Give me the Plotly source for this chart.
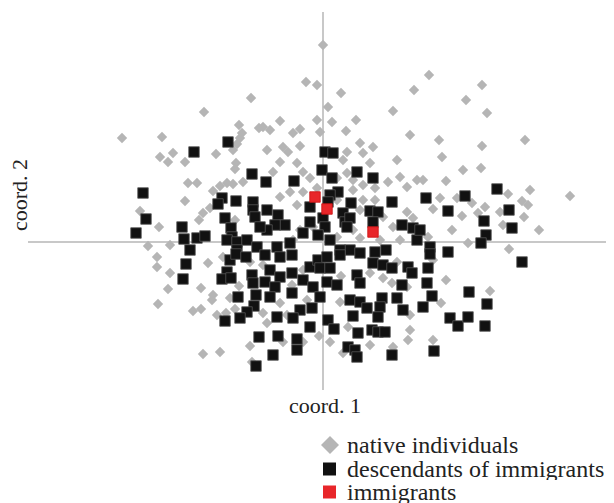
import plotly.graph_objects as go

# coordinates (arbitrary units, origin at axis crossing)
native_c1 = [-72,-119,-84,-81,-64,-201,-161,0,-17,-6,18,5,70,91,-43,-6,9,33,23,-60,-53,-30,-23,87,
             106,159,143,164,
             -163,-150,-155,-138,-107,-83,-86,-90,-87,-88,-135,-126,-138,-183,-164,-120,-124,-110,-103,-96,-90,-80,-113,-88,-175,-153,
             -3,-56,-40,-35,-23,37,50,24,20,40,47,74,-43,-26,-20,-13,24,14,30,40,52,65,77,94,84,-50,-33,-43,-20,-26,-6,14,30,40,52,37,60,70,84,90,30,37,14,-10,-23,-30,57,77,
             116,159,202,119,140,158,100,123,117,110,134,149,139,162,155,177,185,180,199,207,205,201,247,216,129,105,145,186,
             -166,-166,-153,-115,-155,-165,-122,-110,-111,-130,-122,-106,-97,-93,-84,-88,-120,-103,-73,-71,-100,-73,
             -60,-20,18,47,60,69,84,74,-31,-16,-43,-60,-56,-36,17,25,-4,7,-20,47,20,70,87,85,-40,87,
             123,167,118,110,110]
native_c2 = [144,130,117,109,114,104,105,197,160,157,149,135,131,152,121,122,120,122,111,115,112,109,113,107,
             167,157,142,129,
             85,89,80,80,88,104,98,92,79,73,59,59,41,31,15,29,22,51,56,59,58,60,34,22,-4,-3,
             110,92,95,90,96,99,95,90,82,89,79,82,80,79,70,64,69,64,62,57,54,60,65,62,55,70,50,45,50,37,54,42,52,42,42,32,25,15,30,24,12,4,5,15,12,2,2,2,
             102,96,102,85,72,74,62,61,44,33,44,39,26,35,29,30,48,17,41,52,37,25,46,12,12,5,-1,-7,
             -15,-25,-31,-21,-47,-62,-46,-53,-58,-69,-67,-73,-71,-56,-44,-67,-112,-110,-104,-120,-15,-20,
             -23,-28,-34,-31,-36,-41,-45,-20,-43,-58,-61,-71,-81,-73,-60,-85,-94,-100,-100,-103,-111,-105,-88,-98,-100,-73,
             -38,-49,-61,-98,-18]

desc_c1 = [-95,-129,-71,-180,-177,-187,-141,-139,-126,-118,-101,-105,-87,-98,-92,-91,-96,-86,-76,-133,-86,-70,-70,-68,-66,
           2,10,-1,9,34,50,-57,-29,15,7,5,28,69,-13,47,55,20,22,27,24,0,2,-13,50,79,90,94,-56,-45,-38,-48,-56,-20,-5,7,-33,-46,-63,52,63,27,17,
           103,142,174,125,186,161,189,163,158,107,125,97,
           -137,-140,-96,-101,-92,-93,-87,-77,-71,-70,-85,-67,-69,-76,-83,-98,-64,-67,
           -58,-43,-31,-53,-43,-31,-58,-48,-20,-10,-13,-5,4,-3,7,17,37,50,60,69,85,89,34,37,4,14,-31,-53,-3,27,37,44,59,57,74,79,80,-23,-11,-46,-30,5,30,55,-13,11,35,49,55,62,-45,-26,-26,25,32,34,69,-50,
           107,105,104,109,100,146,164,199,127,135,145,162,111]
desc_c2 = [100,90,68,49,23,9,15,3,4,6,44,38,41,24,14,5,2,0,2,-8,-8,40,32,25,-5,
           90,89,72,64,70,64,60,61,50,47,40,39,40,35,31,30,29,20,24,15,24,15,20,20,17,14,2,32,27,17,17,12,9,7,2,-1,-5,15,-10,-8,-8,-8,
           44,46,53,31,32,21,14,7,-1,-5,-10,12,
           -22,-37,-30,-37,-36,-18,-12,-15,-33,-41,-55,-53,-64,-70,-76,-79,-95,-124,
           -13,-15,-13,-28,-35,-31,-40,-45,-38,-45,-25,-18,-15,-26,-26,-13,-11,-21,-23,-26,-25,-31,-33,-41,-40,-43,-51,-55,-55,-58,-60,-66,-56,-65,-56,-43,-68,-68,-66,-75,-76,-78,-74,-75,-85,-87,-91,-88,-90,-90,-94,-97,-108,-105,-108,-115,-113,-113,
           -12,-26,-41,-54,-65,-50,-62,-20,-76,-84,-75,-84,-109]

immig_c1 = [-8, 4, 50]
immig_c2 = [45, 33, 10]

legend_labels = ["native individuals", "descendants of immigrants", "immigrants"]
axis_labels = ["coord. 1", "coord. 2"]

GRAY = "#b5b5b5"
BLACK = "#111111"
RED = "#e8262a"
SERIF = "Liberation Serif"

fig = go.Figure()
fig.add_trace(go.Scatter(x=native_c1, y=native_c2, mode="markers", name=legend_labels[0],
                         marker=dict(symbol="diamond", size=8, color=GRAY, line=dict(width=0))))
fig.add_trace(go.Scatter(x=desc_c1, y=desc_c2, mode="markers", name=legend_labels[1],
                         marker=dict(symbol="square", size=10.5, color=BLACK, line=dict(width=0.8, color="#555555"))))
fig.add_trace(go.Scatter(x=immig_c1, y=immig_c2, mode="markers", name=legend_labels[2],
                         marker=dict(symbol="square", size=10.5, color=RED, line=dict(width=0.8, color="#cc1111"))))

# page body has an 8px margin; figure is placed at (8, 8) in the window
OFF = 8
W, H = 614 - OFF, 503 - OFF
L, R, T, B = 28 - OFF, 2, 12 - OFF, 113
PW, PH = W - L - R, H - T - B

def px(xp):
    return (xp - OFF - L) / PW

def py(yp):
    return (H + OFF - B - yp) / PH

axis_common = dict(showgrid=False, showticklabels=False, ticks="", showline=False,
                   zeroline=True, zerolinecolor="#c8c8c8", zerolinewidth=1.5)
fig.update_xaxes(range=[-295, 289], **axis_common)
fig.update_yaxes(range=[-148, 230], **axis_common)

annotations = [
    dict(text=axis_labels[0], x=px(325), y=py(405), xref="paper", yref="paper",
         showarrow=False, xanchor="center", yanchor="middle", font=dict(family=SERIF, size=22, color="#222")),
    dict(text=axis_labels[1], x=px(20), y=py(195), xref="paper", yref="paper", textangle=-90,
         showarrow=False, xanchor="center", yanchor="middle", font=dict(family=SERIF, size=22, color="#222")),
]
rows = [444, 468, 491]
for lab, yy in zip(legend_labels, rows):
    annotations.append(dict(text=lab, x=px(345), y=py(yy), xref="paper", yref="paper",
                            showarrow=False, xanchor="left", yanchor="middle", height=23,
                            font=dict(family=SERIF, size=24, color="#222")))

shapes = [
    dict(type="path", xref="paper", yref="paper",
         path=f"M {px(321)},{py(445)} L {px(330)},{py(436)} L {px(339)},{py(445)} L {px(330)},{py(454)} Z",
         fillcolor=GRAY, line=dict(width=0)),
    dict(type="rect", xref="paper", yref="paper", x0=px(323), x1=px(336), y0=py(462.5), y1=py(475.5),
         fillcolor=BLACK, line=dict(width=0)),
    dict(type="rect", xref="paper", yref="paper", x0=px(323), x1=px(336), y0=py(485.5), y1=py(498.5),
         fillcolor=RED, line=dict(width=0)),
]

fig.update_layout(width=W, height=H, margin=dict(l=L, r=R, t=T, b=B),
                  paper_bgcolor="white", plot_bgcolor="white", showlegend=False,
                  annotations=annotations, shapes=shapes)

fig.write_html("out.html")
